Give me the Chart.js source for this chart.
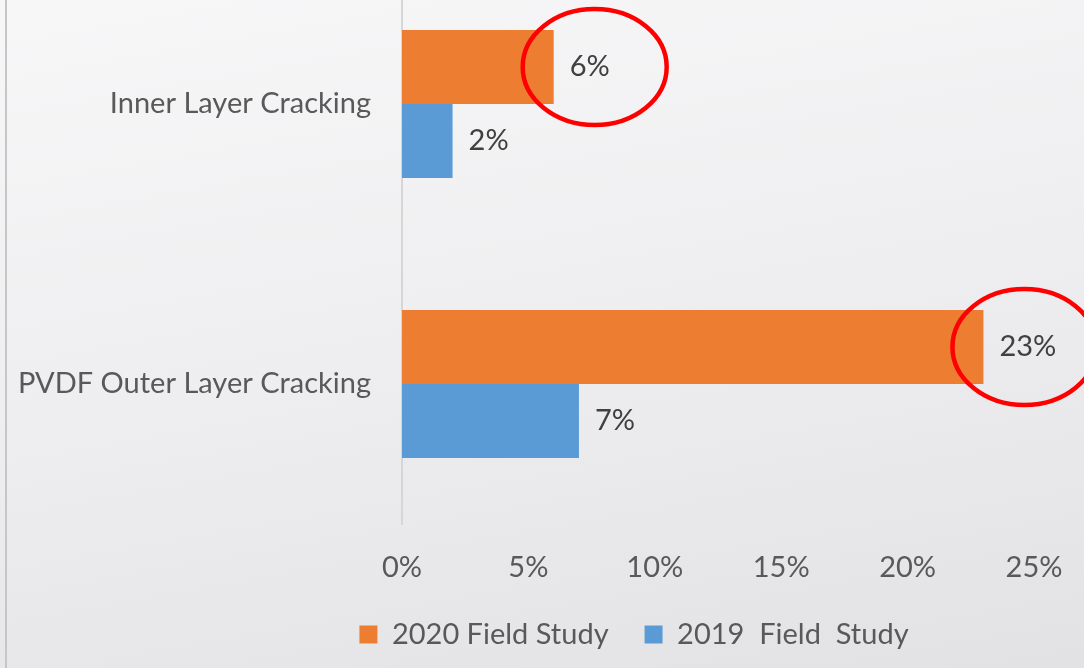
<!DOCTYPE html>
<html>
<head>
<meta charset="utf-8">
<script src="https://cdn.jsdelivr.net/npm/chart.js@4/dist/chart.umd.min.js"></script>
<style>
    html, body {
        margin: 0;
        width: 1084px;
        height: 668px;
        overflow: hidden;
        background: linear-gradient(170deg, #f7f7f8 0%, #eeeef0 50%, #e2e2e4 100%);
    }
    #edge {
        position: absolute;
        left: 5px;
        top: 0;
        width: 2px;
        height: 668px;
        background: #c6c6c8;
    }
    #wrap {
        position: absolute;
        left: 0;
        top: -36px;
        width: 1084px;
        height: 704px;
    }
</style>
</head>
<body>
<div id="edge"></div>
<div id="wrap"><canvas id="crackChart"></canvas></div>
<script>
// chart data
const categories = ["Inner Layer Cracking", "PVDF Outer Layer Cracking"];
const seriesNames = ["2020 Field Study", "2019  Field  Study"];
const study2020 = [6, 23];
const study2019 = [2, 7];
const xTicks = [0, 5, 10, 15, 20, 25];
const circled = ["2020 Field Study"];

const FONT = "Lato, 'Open Sans', sans-serif";

// value labels + red circles next to the bars
const barLabels = {
    id: "barLabels",
    afterLayout(chart) {
        // legend in the original sits right of the canvas centre
        chart.legend.left += 117;
        chart.legend.right += 117;
    },
    afterDatasetsDraw(chart) {
        const ctx = chart.ctx;
        ctx.save();
        ctx.font = "29px " + FONT;
        ctx.fillStyle = "#404040";
        ctx.textAlign = "left";
        ctx.textBaseline = "middle";
        chart.data.datasets.forEach((ds, i) => {
            chart.getDatasetMeta(i).data.forEach((bar, j) => {
                ctx.fillText(ds.data[j] + "%", bar.x + 16, bar.y);
                if (circled.includes(ds.label)) {
                    ctx.beginPath();
                    ctx.ellipse(bar.x + 41, bar.y, 72, 58, 0, 0, Math.PI * 2);
                    ctx.strokeStyle = "#ff0000";
                    ctx.lineWidth = 4.5;
                    ctx.stroke();
                }
            });
        });
        ctx.restore();
    }
};

new Chart(document.getElementById("crackChart"), {
    type: "bar",
    data: {
        labels: categories,
        datasets: [
            {
                label: seriesNames[0],
                data: study2020,
                backgroundColor: "#ed7d31"
            },
            {
                label: seriesNames[1],
                data: study2019,
                backgroundColor: "#5b9bd5"
            }
        ]
    },
    options: {
        indexAxis: "y",
        responsive: true,
        maintainAspectRatio: false,
        animation: false,
        barPercentage: 1,
        categoryPercentage: 0.529,
        layout: { padding: { left: 0, right: 50, top: 0, bottom: 9 } },
        scales: {
            x: {
                min: xTicks[0],
                max: xTicks[xTicks.length - 1],
                afterBuildTicks: scale => {
                    scale.ticks = xTicks.map(v => ({ value: v }));
                },
                afterFit: scale => {
                    scale.height = 60;
                    scale.paddingLeft = 0;
                    scale.paddingRight = 0;
                },
                grid: { display: false, drawTicks: false },
                border: { display: false },
                ticks: {
                    autoSkip: false,
                    maxRotation: 0,
                    padding: 26,
                    color: "#595959",
                    font: { family: FONT, size: 29 },
                    callback: v => v + "%"
                }
            },
            y: {
                afterFit: scale => {
                    scale.width = 402;
                    scale.paddingTop = 0;
                    scale.paddingBottom = 0;
                },
                grid: { display: false, drawTicks: false },
                border: { display: true, color: "#d6d6d8", width: 2 },
                ticks: {
                    padding: 31,
                    color: "#595959",
                    font: { family: FONT, size: 29 }
                }
            }
        },
        plugins: {
            legend: {
                position: "bottom",
                labels: {
                    boxWidth: 18,
                    boxHeight: 18,
                    padding: 36,
                    color: "#595959",
                    font: { family: FONT, size: 29 }
                }
            },
            tooltip: { enabled: false }
        }
    },
    plugins: [barLabels]
});
</script>
</body>
</html>
